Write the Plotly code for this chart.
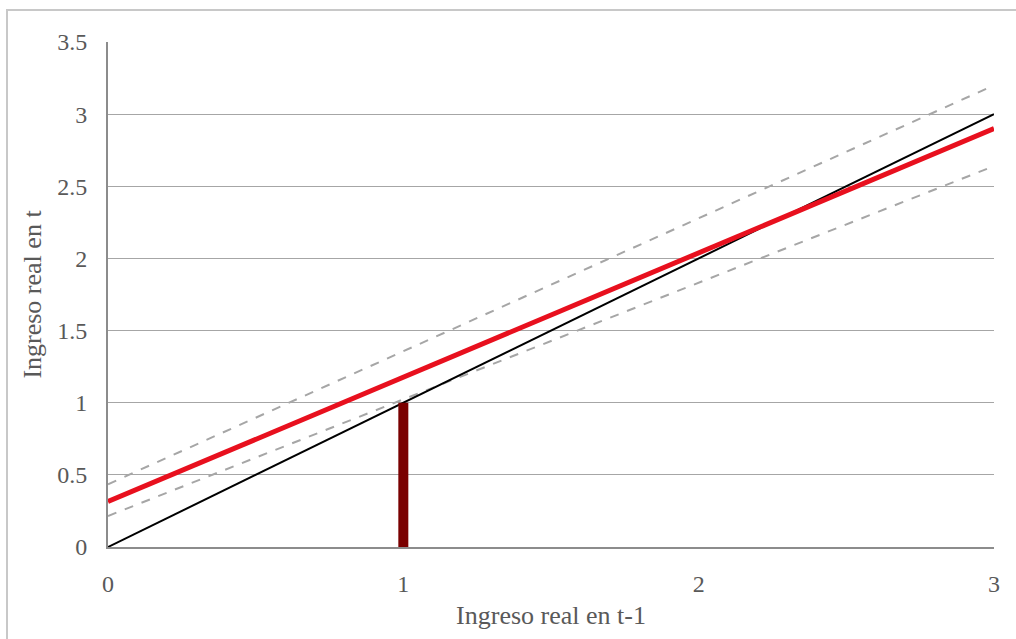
import plotly.graph_objects as go

x_vals = [0, 3]
identity = [0, 3]
red_line = [0.315, 2.90]
upper_dash = [0.435, 3.20]
lower_dash = [0.215, 2.64]
bar_x = [1, 1]
bar_y = [0, 1.0]

x_ticks = [0, 1, 2, 3]
y_ticks = [0, 0.5, 1, 1.5, 2, 2.5, 3, 3.5]
y_labels = ["0", "0.5", "1", "1.5", "2", "2.5", "3", "3.5"]

font_family = "Liberation Serif, DejaVu Serif, serif"
grey_text = "#595959"

fig = go.Figure()
fig.add_trace(go.Scatter(x=x_vals, y=upper_dash, mode="lines",
                         line=dict(color="#a6a6a6", width=2, dash="dash"), showlegend=False))
fig.add_trace(go.Scatter(x=x_vals, y=lower_dash, mode="lines",
                         line=dict(color="#a6a6a6", width=2, dash="dash"), showlegend=False))
fig.add_trace(go.Scatter(x=x_vals, y=identity, mode="lines",
                         line=dict(color="black", width=2), showlegend=False))
fig.add_trace(go.Scatter(x=x_vals, y=red_line, mode="lines",
                         line=dict(color="#e8101e", width=5), showlegend=False))
fig.add_trace(go.Scatter(x=bar_x, y=bar_y, mode="lines",
                         line=dict(color="#7a0000", width=10), showlegend=False))

fig.update_layout(
    width=1016, height=639,
    margin=dict(l=108, r=22, t=42, b=92),
    plot_bgcolor="white", paper_bgcolor="white",
    font=dict(family=font_family, size=24, color=grey_text),
    xaxis=dict(range=[0, 3], tickvals=x_ticks, ticktext=[str(v) for v in x_ticks],
               showgrid=False, zeroline=False, showline=True, linecolor="#8c8c8c",
               linewidth=2, ticks="", ticklen=0, ticklabelstandoff=14,
               title=dict(text="Ingreso real en t-1", font=dict(size=26, color=grey_text), standoff=10),
               tickfont=dict(size=24, color=grey_text)),
    yaxis=dict(range=[0, 3.5], tickvals=y_ticks, ticktext=y_labels,
               showgrid=True, gridcolor="#a6a6a6", gridwidth=1,
               zeroline=False, showline=True, linecolor="#8c8c8c", linewidth=2,
               ticks="", ticklabelstandoff=14,
               title=dict(text="Ingreso real en t", font=dict(size=26, color=grey_text), standoff=8),
               tickfont=dict(size=24, color=grey_text)),
    shapes=[dict(type="rect", xref="paper", yref="paper", x0=-0.114, x1=1.05, y0=-0.2, y1=1.0634,
                 line=dict(color="#c8c8c8", width=2), fillcolor="rgba(0,0,0,0)", layer="below")],
)

fig.write_html("out.html")
